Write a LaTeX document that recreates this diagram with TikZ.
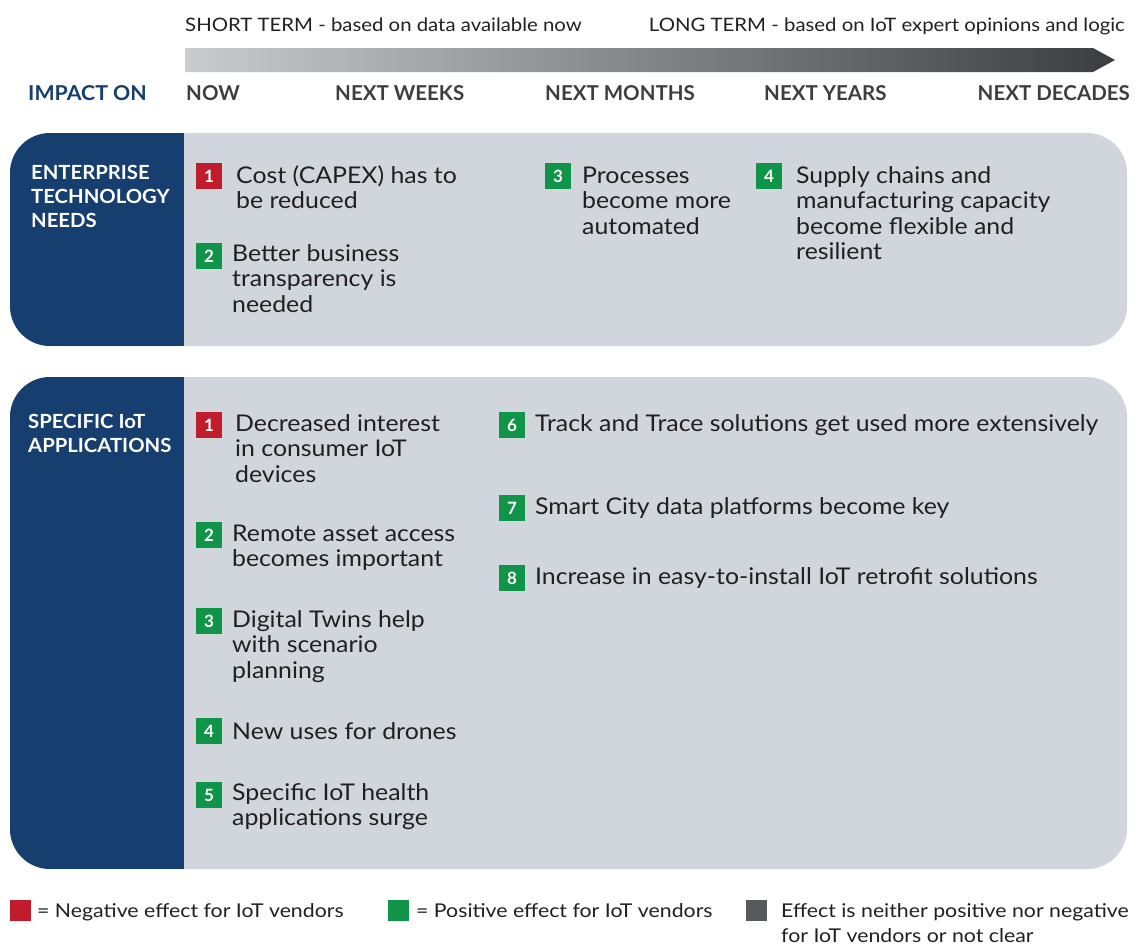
\documentclass[tikz,border=0pt]{standalone}
\usepackage{fontspec}
\setmainfont{Lato}
\newfontfamily\itemfont[FakeStretch=1.08]{Lato}
\newfontfamily\topfont[FakeStretch=1.10]{Lato}
\newfontfamily\legfont[FakeStretch=1.12]{Lato}
\newfontfamily\titlefont[FakeStretch=1.04]{Lato}
\definecolor{navy}{RGB}{22,62,110}
\definecolor{panel}{RGB}{208,214,220}
\definecolor{cred}{RGB}{192,28,44}
\definecolor{cgreen}{RGB}{16,148,72}
\definecolor{cgray}{RGB}{88,89,91}
\definecolor{ctext}{RGB}{35,31,32}
\definecolor{chead}{RGB}{62,62,64}
\definecolor{arrL}{RGB}{202,203,206}
\definecolor{arrR}{RGB}{60,61,65}
\tikzset{
  badge/.style={minimum size=26pt, inner sep=0pt, text=white, font=\fontsize{17}{17}\selectfont\bfseries},
  negbadge/.style={badge, fill=cred},
  posbadge/.style={badge, fill=cgreen},
  itemtxt/.style={anchor=north west, inner sep=0pt, align=left, text=ctext, font=\fontsize{23}{25.5}\itemfont},
  headtxt/.style={anchor=base west, inner sep=0pt, text=chead, font=\fontsize{20.5}{24}\selectfont\bfseries},
  toptxt/.style={anchor=base west, inner sep=0pt, text=ctext, font=\fontsize{18.5}{22}\topfont},
  paneltitle/.style={anchor=north west, inner sep=0pt, align=left, text=white, font=\fontsize{19.5}{24}\titlefont\bfseries},
  legtxt/.style={anchor=north west, inner sep=0pt, align=left, text=ctext, font=\fontsize{19}{25}\legfont},
}
\begin{document}
\begin{tikzpicture}[x=1pt,y=-1pt]
\useasboundingbox (0,0) rectangle (1137,946);
% top texts
\node[toptxt] (st) at (185,31) {SHORT TERM - based on data available now};
\node[toptxt, anchor=base east] (lt) at (1125,31) {LONG TERM - based on IoT expert opinions and logic};
% gradient arrow
\shade[left color=arrL, right color=arrR] (185,48) -- (1093,48) -- (1115,60) -- (1093,72) -- (185,72) -- cycle;
% header
\node[headtxt, text=navy, font=\fontsize{20.5}{24}\titlefont\bfseries] (imp) at (28,100) {IMPACT ON};
\node[headtxt] (h1) at (186,100) {NOW};
\node[headtxt] (h2) at (335,100) {NEXT WEEKS};
\node[headtxt] (h3) at (545,100) {NEXT MONTHS};
\node[headtxt] (h4) at (764,100) {NEXT YEARS};
\node[headtxt, anchor=base east] (h5) at (1130,100) {NEXT DECADES};
% panel 1
\fill[panel, rounded corners=40pt] (10,133) rectangle (1127,346);
\begin{scope}
  \clip[rounded corners=40pt] (10,133) rectangle (1127,346);
  \fill[navy] (10,133) rectangle (184,346);
\end{scope}
% panel 2
\fill[panel, rounded corners=40pt] (10,377) rectangle (1127,869);
\begin{scope}
  \clip[rounded corners=40pt] (10,377) rectangle (1127,869);
  \fill[navy] (10,377) rectangle (184,869);
\end{scope}
% panel titles
\node[paneltitle] (p1) at (31,162) {\strut ENTERPRISE\\TECHNOLOGY\\NEEDS};
\node[paneltitle] (p2) at (28,411) {\strut SPECIFIC IoT\\APPLICATIONS};
% panel 1 items
\node[negbadge] (e1) at (209,176) {1};
\node[itemtxt] (e1t) at (236,165) {\strut Cost (CAPEX) has to\\be reduced};
\node[posbadge] (e2) at (209,256) {2};
\node[itemtxt] (e2t) at (232,243) {\strut Better business\\transparency is\\needed};
\node[posbadge] (e3) at (558,176) {3};
\node[itemtxt] (e3t) at (582,165) {\strut Processes\\become more\\automated};
\node[posbadge] (e4) at (769,176) {4};
\node[itemtxt] (e4t) at (796,165) {\strut Supply chains and\\manufacturing capacity\\become flexible and\\resilient};
% panel 2 items
\node[negbadge] (a1) at (209,425) {1};
\node[itemtxt] (a1t) at (235,413) {\strut Decreased interest\\in consumer IoT\\devices};
\node[posbadge] (a2) at (209,535) {2};
\node[itemtxt] (a2t) at (232,523) {\strut Remote asset access\\becomes important};
\node[posbadge] (a3) at (209,621) {3};
\node[itemtxt] (a3t) at (232,609) {\strut Digital Twins help\\with scenario\\planning};
\node[posbadge] (a4) at (209,731) {4};
\node[itemtxt] (a4t) at (232,721) {\strut New uses for drones};
\node[posbadge] (a5) at (209,795) {5};
\node[itemtxt] (a5t) at (232,782) {\strut Specific IoT health\\applications surge};
\node[posbadge] (a6) at (512,425) {6};
\node[itemtxt] (a6t) at (535,413) {\strut Track and Trace solutions get used more extensively};
\node[posbadge] (a7) at (512,508) {7};
\node[itemtxt] (a7t) at (535,496) {\strut Smart City data platforms become key};
\node[posbadge] (a8) at (512,578) {8};
\node[itemtxt] (a8t) at (535,566) {\strut Increase in easy-to-install IoT retrofit solutions};
% legend
\fill[cred] (10,900) rectangle (31,921);
\node[legtxt] (l1) at (37,900) {\strut = Negative effect for IoT vendors};
\fill[cgreen] (388,900) rectangle (409,921);
\node[legtxt] (l2) at (416,900) {\strut = Positive effect for IoT vendors};
\fill[cgray] (746,900) rectangle (767,921);
\node[legtxt] (l3) at (781,900) {\strut Effect is neither positive nor negative\\for IoT vendors or not clear};
\end{tikzpicture}
\end{document}
